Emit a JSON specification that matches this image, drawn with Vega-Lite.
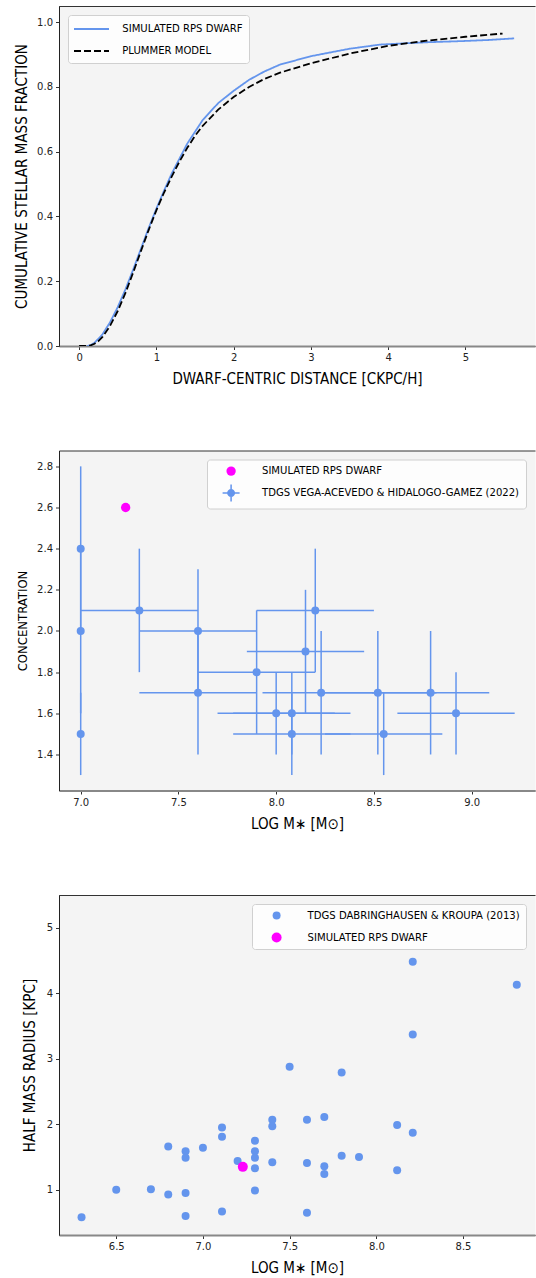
{
  "$schema": "https://vega.github.io/schema/vega-lite/v6.json",
  "padding": {"left": 14, "top": 5, "right": 0, "bottom": 0},
  "background": "white",
  "spacing": 104.5,
  "bounds": "flush",
  "datasets": {
    "curves": [
      {"series": "SIMULATED RPS DWARF", "x": 0.1, "y": 0.0},
      {"series": "SIMULATED RPS DWARF", "x": 0.15, "y": 0.003},
      {"series": "SIMULATED RPS DWARF", "x": 0.2, "y": 0.01},
      {"series": "SIMULATED RPS DWARF", "x": 0.3, "y": 0.035},
      {"series": "SIMULATED RPS DWARF", "x": 0.4, "y": 0.073},
      {"series": "SIMULATED RPS DWARF", "x": 0.5, "y": 0.12},
      {"series": "SIMULATED RPS DWARF", "x": 0.6, "y": 0.175},
      {"series": "SIMULATED RPS DWARF", "x": 0.7, "y": 0.236},
      {"series": "SIMULATED RPS DWARF", "x": 0.8, "y": 0.3},
      {"series": "SIMULATED RPS DWARF", "x": 0.9, "y": 0.364},
      {"series": "SIMULATED RPS DWARF", "x": 1.0, "y": 0.424},
      {"series": "SIMULATED RPS DWARF", "x": 1.1, "y": 0.48},
      {"series": "SIMULATED RPS DWARF", "x": 1.2, "y": 0.533},
      {"series": "SIMULATED RPS DWARF", "x": 1.4, "y": 0.625},
      {"series": "SIMULATED RPS DWARF", "x": 1.6, "y": 0.698},
      {"series": "SIMULATED RPS DWARF", "x": 1.8, "y": 0.75},
      {"series": "SIMULATED RPS DWARF", "x": 2.0, "y": 0.788},
      {"series": "SIMULATED RPS DWARF", "x": 2.2, "y": 0.822},
      {"series": "SIMULATED RPS DWARF", "x": 2.4, "y": 0.848},
      {"series": "SIMULATED RPS DWARF", "x": 2.6, "y": 0.869},
      {"series": "SIMULATED RPS DWARF", "x": 3.0, "y": 0.895},
      {"series": "SIMULATED RPS DWARF", "x": 3.5, "y": 0.918},
      {"series": "SIMULATED RPS DWARF", "x": 3.9, "y": 0.931},
      {"series": "SIMULATED RPS DWARF", "x": 4.5, "y": 0.938},
      {"series": "SIMULATED RPS DWARF", "x": 5.0, "y": 0.942},
      {"series": "SIMULATED RPS DWARF", "x": 5.3, "y": 0.945},
      {"series": "SIMULATED RPS DWARF", "x": 5.63, "y": 0.95},
      {"series": "PLUMMER MODEL", "x": 0.0, "y": 0.0},
      {"series": "PLUMMER MODEL", "x": 0.1, "y": 0.0},
      {"series": "PLUMMER MODEL", "x": 0.15, "y": 0.002},
      {"series": "PLUMMER MODEL", "x": 0.2, "y": 0.007},
      {"series": "PLUMMER MODEL", "x": 0.25, "y": 0.015},
      {"series": "PLUMMER MODEL", "x": 0.3, "y": 0.027},
      {"series": "PLUMMER MODEL", "x": 0.4, "y": 0.062},
      {"series": "PLUMMER MODEL", "x": 0.5, "y": 0.108},
      {"series": "PLUMMER MODEL", "x": 0.6, "y": 0.164},
      {"series": "PLUMMER MODEL", "x": 0.7, "y": 0.227},
      {"series": "PLUMMER MODEL", "x": 0.8, "y": 0.293},
      {"series": "PLUMMER MODEL", "x": 0.9, "y": 0.358},
      {"series": "PLUMMER MODEL", "x": 1.0, "y": 0.419},
      {"series": "PLUMMER MODEL", "x": 1.1, "y": 0.474},
      {"series": "PLUMMER MODEL", "x": 1.2, "y": 0.524},
      {"series": "PLUMMER MODEL", "x": 1.3, "y": 0.57},
      {"series": "PLUMMER MODEL", "x": 1.4, "y": 0.612},
      {"series": "PLUMMER MODEL", "x": 1.5, "y": 0.649},
      {"series": "PLUMMER MODEL", "x": 1.6, "y": 0.68},
      {"series": "PLUMMER MODEL", "x": 1.8, "y": 0.73},
      {"series": "PLUMMER MODEL", "x": 2.0, "y": 0.769},
      {"series": "PLUMMER MODEL", "x": 2.2, "y": 0.8},
      {"series": "PLUMMER MODEL", "x": 2.4, "y": 0.825},
      {"series": "PLUMMER MODEL", "x": 2.6, "y": 0.844},
      {"series": "PLUMMER MODEL", "x": 3.0, "y": 0.873},
      {"series": "PLUMMER MODEL", "x": 3.5, "y": 0.903},
      {"series": "PLUMMER MODEL", "x": 4.0, "y": 0.927},
      {"series": "PLUMMER MODEL", "x": 4.5, "y": 0.943},
      {"series": "PLUMMER MODEL", "x": 5.0, "y": 0.955},
      {"series": "PLUMMER MODEL", "x": 5.48, "y": 0.965}
    ],
    "conc": [
      {"series": "SIMULATED RPS DWARF", "x": 7.23, "y": 2.6, "xlo": 7.23, "xhi": 7.23, "ylo": 2.6, "yhi": 2.6},
      {"series": "TDGS VEGA-ACEVEDO & HIDALOGO-GAMEZ (2022)", "x": 7.0, "y": 2.4, "xlo": 7.0, "xhi": 7.0, "ylo": 2.0, "yhi": 2.8},
      {"series": "TDGS VEGA-ACEVEDO & HIDALOGO-GAMEZ (2022)", "x": 7.0, "y": 2.0, "xlo": 7.0, "xhi": 7.0, "ylo": 1.6, "yhi": 2.4},
      {"series": "TDGS VEGA-ACEVEDO & HIDALOGO-GAMEZ (2022)", "x": 7.0, "y": 1.5, "xlo": 7.0, "xhi": 7.0, "ylo": 1.3, "yhi": 1.7},
      {"series": "TDGS VEGA-ACEVEDO & HIDALOGO-GAMEZ (2022)", "x": 7.3, "y": 2.1, "xlo": 7.0, "xhi": 7.6, "ylo": 1.8, "yhi": 2.4},
      {"series": "TDGS VEGA-ACEVEDO & HIDALOGO-GAMEZ (2022)", "x": 7.6, "y": 2.0, "xlo": 7.3, "xhi": 7.9, "ylo": 1.7, "yhi": 2.3},
      {"series": "TDGS VEGA-ACEVEDO & HIDALOGO-GAMEZ (2022)", "x": 7.6, "y": 1.7, "xlo": 7.3, "xhi": 7.9, "ylo": 1.4, "yhi": 2.0},
      {"series": "TDGS VEGA-ACEVEDO & HIDALOGO-GAMEZ (2022)", "x": 7.9, "y": 1.8, "xlo": 7.6, "xhi": 8.2, "ylo": 1.5, "yhi": 2.1},
      {"series": "TDGS VEGA-ACEVEDO & HIDALOGO-GAMEZ (2022)", "x": 8.2, "y": 2.1, "xlo": 7.9, "xhi": 8.5, "ylo": 1.8, "yhi": 2.4},
      {"series": "TDGS VEGA-ACEVEDO & HIDALOGO-GAMEZ (2022)", "x": 8.15, "y": 1.9, "xlo": 7.85, "xhi": 8.45, "ylo": 1.6, "yhi": 2.2},
      {"series": "TDGS VEGA-ACEVEDO & HIDALOGO-GAMEZ (2022)", "x": 8.0, "y": 1.6, "xlo": 7.7, "xhi": 8.3, "ylo": 1.4, "yhi": 1.8},
      {"series": "TDGS VEGA-ACEVEDO & HIDALOGO-GAMEZ (2022)", "x": 8.08, "y": 1.6, "xlo": 7.78, "xhi": 8.38, "ylo": 1.4, "yhi": 1.8},
      {"series": "TDGS VEGA-ACEVEDO & HIDALOGO-GAMEZ (2022)", "x": 8.08, "y": 1.5, "xlo": 7.78, "xhi": 8.38, "ylo": 1.3, "yhi": 1.7},
      {"series": "TDGS VEGA-ACEVEDO & HIDALOGO-GAMEZ (2022)", "x": 8.23, "y": 1.7, "xlo": 7.93, "xhi": 8.53, "ylo": 1.4, "yhi": 2.0},
      {"series": "TDGS VEGA-ACEVEDO & HIDALOGO-GAMEZ (2022)", "x": 8.52, "y": 1.7, "xlo": 8.22, "xhi": 8.82, "ylo": 1.4, "yhi": 2.0},
      {"series": "TDGS VEGA-ACEVEDO & HIDALOGO-GAMEZ (2022)", "x": 8.55, "y": 1.5, "xlo": 8.25, "xhi": 8.85, "ylo": 1.3, "yhi": 1.7},
      {"series": "TDGS VEGA-ACEVEDO & HIDALOGO-GAMEZ (2022)", "x": 8.79, "y": 1.7, "xlo": 8.49, "xhi": 9.09, "ylo": 1.4, "yhi": 2.0},
      {"series": "TDGS VEGA-ACEVEDO & HIDALOGO-GAMEZ (2022)", "x": 8.92, "y": 1.6, "xlo": 8.62, "xhi": 9.22, "ylo": 1.4, "yhi": 1.8}
    ],
    "radius": [
      {"series": "TDGS DABRINGHAUSEN & KROUPA (2013)", "x": 6.3, "y": 0.58},
      {"series": "TDGS DABRINGHAUSEN & KROUPA (2013)", "x": 6.5, "y": 1.0},
      {"series": "TDGS DABRINGHAUSEN & KROUPA (2013)", "x": 6.7, "y": 1.01},
      {"series": "TDGS DABRINGHAUSEN & KROUPA (2013)", "x": 6.8, "y": 1.66},
      {"series": "TDGS DABRINGHAUSEN & KROUPA (2013)", "x": 6.8, "y": 0.93},
      {"series": "TDGS DABRINGHAUSEN & KROUPA (2013)", "x": 6.9, "y": 1.59},
      {"series": "TDGS DABRINGHAUSEN & KROUPA (2013)", "x": 6.9, "y": 1.49},
      {"series": "TDGS DABRINGHAUSEN & KROUPA (2013)", "x": 6.9, "y": 0.95},
      {"series": "TDGS DABRINGHAUSEN & KROUPA (2013)", "x": 6.9, "y": 0.6},
      {"series": "TDGS DABRINGHAUSEN & KROUPA (2013)", "x": 7.0, "y": 1.64},
      {"series": "TDGS DABRINGHAUSEN & KROUPA (2013)", "x": 7.11, "y": 1.95},
      {"series": "TDGS DABRINGHAUSEN & KROUPA (2013)", "x": 7.11, "y": 1.81},
      {"series": "TDGS DABRINGHAUSEN & KROUPA (2013)", "x": 7.11, "y": 0.67},
      {"series": "TDGS DABRINGHAUSEN & KROUPA (2013)", "x": 7.2, "y": 1.44},
      {"series": "TDGS DABRINGHAUSEN & KROUPA (2013)", "x": 7.3, "y": 1.75},
      {"series": "TDGS DABRINGHAUSEN & KROUPA (2013)", "x": 7.3, "y": 1.59},
      {"series": "TDGS DABRINGHAUSEN & KROUPA (2013)", "x": 7.3, "y": 1.49},
      {"series": "TDGS DABRINGHAUSEN & KROUPA (2013)", "x": 7.3, "y": 1.33},
      {"series": "TDGS DABRINGHAUSEN & KROUPA (2013)", "x": 7.3, "y": 0.99},
      {"series": "TDGS DABRINGHAUSEN & KROUPA (2013)", "x": 7.4, "y": 2.07},
      {"series": "TDGS DABRINGHAUSEN & KROUPA (2013)", "x": 7.4, "y": 1.97},
      {"series": "TDGS DABRINGHAUSEN & KROUPA (2013)", "x": 7.4, "y": 1.42},
      {"series": "TDGS DABRINGHAUSEN & KROUPA (2013)", "x": 7.5, "y": 2.88},
      {"series": "TDGS DABRINGHAUSEN & KROUPA (2013)", "x": 7.6, "y": 2.07},
      {"series": "TDGS DABRINGHAUSEN & KROUPA (2013)", "x": 7.6, "y": 1.41},
      {"series": "TDGS DABRINGHAUSEN & KROUPA (2013)", "x": 7.6, "y": 0.65},
      {"series": "TDGS DABRINGHAUSEN & KROUPA (2013)", "x": 7.7, "y": 2.11},
      {"series": "TDGS DABRINGHAUSEN & KROUPA (2013)", "x": 7.7, "y": 1.36},
      {"series": "TDGS DABRINGHAUSEN & KROUPA (2013)", "x": 7.7, "y": 1.24},
      {"series": "TDGS DABRINGHAUSEN & KROUPA (2013)", "x": 7.8, "y": 2.79},
      {"series": "TDGS DABRINGHAUSEN & KROUPA (2013)", "x": 7.8, "y": 1.52},
      {"series": "TDGS DABRINGHAUSEN & KROUPA (2013)", "x": 7.9, "y": 1.5},
      {"series": "TDGS DABRINGHAUSEN & KROUPA (2013)", "x": 8.12, "y": 1.99},
      {"series": "TDGS DABRINGHAUSEN & KROUPA (2013)", "x": 8.12, "y": 1.3},
      {"series": "TDGS DABRINGHAUSEN & KROUPA (2013)", "x": 8.21, "y": 1.87},
      {"series": "TDGS DABRINGHAUSEN & KROUPA (2013)", "x": 8.21, "y": 3.37},
      {"series": "TDGS DABRINGHAUSEN & KROUPA (2013)", "x": 8.21, "y": 4.48},
      {"series": "TDGS DABRINGHAUSEN & KROUPA (2013)", "x": 8.81, "y": 4.13},
      {"series": "SIMULATED RPS DWARF", "x": 7.23, "y": 1.35}
    ]
  },
  "vconcat": [
    {
      "width": 476,
      "height": 340,
      "data": {"name": "curves"},
      "mark": {"type": "line", "strokeWidth": 1.8, "clip": true},
      "encoding": {
        "x": {"field": "x", "type": "quantitative",
              "scale": {"domain": [-0.26, 5.9], "nice": false, "zero": false},
              "axis": {"values": [0, 1, 2, 3, 4, 5], "format": "d", "title": "DWARF-CENTRIC DISTANCE [CKPC/H]", "titleFontSize": 15}},
        "y": {"field": "y", "type": "quantitative",
              "scale": {"domain": [0, 1.05], "nice": false},
              "axis": {"values": [0, 0.2, 0.4, 0.6, 0.8, 1.0], "format": ".1f", "title": "CUMULATIVE STELLAR MASS FRACTION", "titleFontSize": 15, "titlePadding": 7}},
        "color": {"field": "series", "type": "nominal",
                  "scale": {"domain": ["SIMULATED RPS DWARF", "PLUMMER MODEL"], "range": ["#6495ed", "#000000"]},
                  "legend": {"title": null, "orient": "none", "legendX": 9, "legendY": 9, "symbolType": "M-2.5,0H2.5", "symbolSize": 196, "symbolStrokeWidth": 2, "symbolOffset": 9.5, "labelOffset": 22.8, "rowPadding": 8, "labelFontSize": 11.2}},
        "strokeDash": {"field": "series", "type": "nominal",
                  "scale": {"domain": ["SIMULATED RPS DWARF", "PLUMMER MODEL"], "range": [[1, 0], [7, 3]]},
                  "legend": {"title": null, "orient": "none", "legendX": 9, "legendY": 9, "symbolType": "M-2.5,0H2.5", "symbolSize": 196, "symbolStrokeWidth": 2, "symbolOffset": 9.5, "labelOffset": 22.8, "rowPadding": 8, "labelFontSize": 11.2}},
        "order": {"field": "x", "type": "quantitative"}
      }
    },
    {
      "width": 476,
      "height": 340,
      "data": {"name": "conc"},
      "layer": [
        {
          "mark": {"type": "rule", "color": "#6495ed", "strokeWidth": 1.5},
          "encoding": {
            "x": {"field": "xlo", "type": "quantitative",
                  "scale": {"domain": [6.889, 9.324], "nice": false, "zero": false},
                  "axis": {"values": [7.0, 7.5, 8.0, 8.5, 9.0], "format": ".1f", "title": "LOG M∗ [M⊙]", "titleFontSize": 15}},
            "x2": {"field": "xhi"},
            "y": {"field": "y", "type": "quantitative",
                  "scale": {"domain": [1.225, 2.877], "nice": false, "zero": false},
                  "axis": {"values": [1.4, 1.6, 1.8, 2.0, 2.2, 2.4, 2.6, 2.8], "format": ".1f", "title": "CONCENTRATION", "titleFontSize": 13, "titlePadding": 7}}
          }
        },
        {
          "mark": {"type": "rule", "color": "#6495ed", "strokeWidth": 1.5},
          "encoding": {
            "x": {"field": "x", "type": "quantitative"},
            "y": {"field": "ylo", "type": "quantitative"},
            "y2": {"field": "yhi"}
          }
        },
        {
          "mark": {"type": "point", "filled": true, "opacity": 1},
          "encoding": {
            "x": {"field": "x", "type": "quantitative"},
            "y": {"field": "y", "type": "quantitative"},
            "color": {"field": "series", "type": "nominal",
                      "scale": {"domain": ["SIMULATED RPS DWARF", "TDGS VEGA-ACEVEDO & HIDALOGO-GAMEZ (2022)"], "range": ["#ff00ff", "#6495ed"]},
                      "legend": {"title": null, "orient": "top-right", "symbolOffset": 12.5, "labelOffset": 25.3, "rowPadding": 8, "labelFontSize": 11.2}},
            "size": {"field": "series", "type": "nominal",
                     "scale": {"domain": ["SIMULATED RPS DWARF", "TDGS VEGA-ACEVEDO & HIDALOGO-GAMEZ (2022)"], "range": [87, 64]},
                     "legend": null}
          }
        },
        {
          "transform": [{"filter": "datum.x < 0"}],
          "mark": {"type": "point", "filled": true, "opacity": 1},
          "encoding": {
            "x": {"field": "x", "type": "quantitative"},
            "y": {"field": "y", "type": "quantitative"},
            "color": {"field": "series", "type": "nominal",
                      "legend": {"title": null, "orient": "top-right", "symbolOffset": 12.5, "labelOffset": 25.3, "rowPadding": 8, "labelFontSize": 11.2}},
            "shape": {"field": "series", "type": "nominal",
                      "scale": {"domain": ["SIMULATED RPS DWARF", "TDGS VEGA-ACEVEDO & HIDALOGO-GAMEZ (2022)"],
                                "range": ["circle", "M-2.125,-0.19H2.125V0.19H-2.125Z M-0.19,-2.125H0.19V2.125H-0.19Z M-1,0A1,1 0 1 1 1,0A1,1 0 1 1 -1,0Z"]},
                      "legend": {"title": null, "orient": "top-right", "symbolOffset": 12.5, "labelOffset": 25.3, "rowPadding": 8, "labelFontSize": 11.2}},
            "size": {"field": "series", "type": "nominal", "legend": null}
          }
        }
      ]
    },
    {
      "width": 476,
      "height": 340,
      "data": {"name": "radius"},
      "mark": {"type": "point", "filled": true, "opacity": 1},
      "encoding": {
        "x": {"field": "x", "type": "quantitative",
              "scale": {"domain": [6.17, 8.915], "nice": false, "zero": false},
              "axis": {"values": [6.5, 7.0, 7.5, 8.0, 8.5], "format": ".1f", "title": "LOG M∗ [M⊙]", "titleFontSize": 15}},
        "y": {"field": "y", "type": "quantitative",
              "scale": {"domain": [0.31, 5.5], "nice": false, "zero": false},
              "axis": {"values": [1, 2, 3, 4, 5], "format": "d", "title": "HALF MASS RADIUS [KPC]", "titleFontSize": 15}},
        "color": {"field": "series", "type": "nominal",
                  "scale": {"domain": ["TDGS DABRINGHAUSEN & KROUPA (2013)", "SIMULATED RPS DWARF"], "range": ["#6495ed", "#ff00ff"]},
                  "legend": {"title": null, "orient": "top-right", "symbolOffset": 12.6, "labelOffset": 25, "rowPadding": 10.5, "labelFontSize": 11.2}},
        "size": {"field": "series", "type": "nominal",
                 "scale": {"domain": ["TDGS DABRINGHAUSEN & KROUPA (2013)", "SIMULATED RPS DWARF"], "range": [64, 100]},
                 "legend": {"title": null, "orient": "top-right", "symbolOffset": 12.6, "labelOffset": 25, "rowPadding": 10.5, "labelFontSize": 11.2}}
      }
    }
  ],
  "resolve": {
    "scale": {"color": "independent", "size": "independent", "strokeDash": "independent", "shape": "independent", "x": "independent", "y": "independent"},
    "legend": {"color": "independent", "size": "independent", "strokeDash": "independent", "shape": "independent"}
  },
  "config": {
    "view": {"fill": "#f4f4f4", "stroke": "#333333", "strokeWidth": 1, "strokeDash": [476, 340, 816]},
    "axis": {
      "grid": false,
      "labelFont": "DejaVu Sans", "labelFontSize": 10, "labelColor": "#222222", "labelPadding": 3,
      "tickColor": "#333333", "tickSize": 3.5, "tickWidth": 1,
      "domainColor": "#222222", "domainWidth": 1,
      "titleFont": "DejaVu Sans Condensed, sans-serif", "titleFontSize": 17, "titleFontWeight": "normal", "titleColor": "#000000", "titlePadding": 9
    },
    "axisX": {"domainColor": "#888888", "domainWidth": 2},
    "legend": {
      "offset": 9, "padding": 6, "cornerRadius": 3,
      "fillColor": "#fdfdfd", "strokeColor": "#d0d0d0",
      "labelFont": "DejaVu Sans Condensed, sans-serif", "labelFontSize": 11.2, "labelColor": "#000000",
      "rowPadding": 8, "labelLimit": 400
    }
  }
}
